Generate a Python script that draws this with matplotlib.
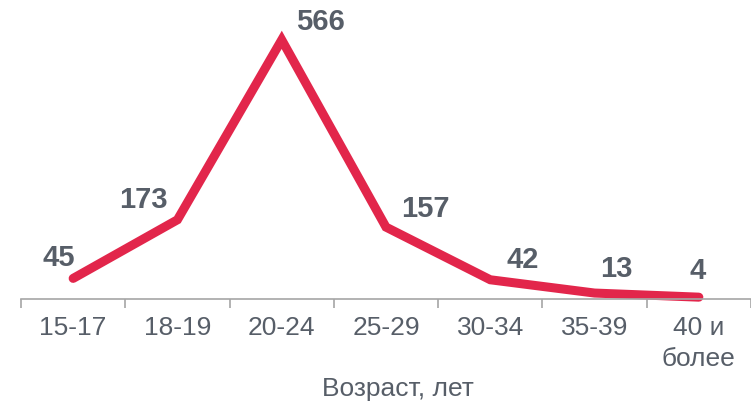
import matplotlib
matplotlib.use("Agg")
import matplotlib.pyplot as plt
import numpy as np

categories = ["15-17", "18-19", "20-24", "25-29", "30-34", "35-39", "40 и\nболее"]
values = [45, 173, 566, 157, 42, 13, 4]
# label offsets (pixels) relative to each point
label_dx = [-14, -34, 39, 39, 32, 22, -1]
label_dy = [20, 20, 18, 18, 20, 24, 26]

plt.rcParams['font.family'] = ['Liberation Sans', 'DejaVu Sans']

W, H = 751, 405
fig = plt.figure(figsize=(W / 100, H / 100), dpi=100)
left, right, bottom = 21, 751, 405 - 299
ax = fig.add_axes([left / W, bottom / H, (right - left) / W, 299 / H])

x = np.arange(len(values))
ax.plot(x, values, color="#E2264B", lw=6.5, solid_capstyle="round", solid_joinstyle="miter", clip_on=False)

for xi, v, dx, dy in zip(x, values, label_dx, label_dy):
    ax.annotate(str(v), (xi, v), xytext=(dx, dy), textcoords="offset pixels",
                ha="center", va="center", fontsize=21, fontweight="bold", color="#575E68")

ax.set_xlim(-0.5, -0.5 + (right - left) / 106)
ax.set_ylim(0, 653)
for s in ["top", "right", "left"]:
    ax.spines[s].set_visible(False)
ax.spines["bottom"].set_color("#A6A6A6")
ax.spines["bottom"].set_linewidth(1.2)
ax.set_yticks([])

ax.set_xticks(x)
ax.set_xticklabels(categories, fontsize=19, color="#575E68", linespacing=1.4)
ax.tick_params(axis="x", which="major", length=0, pad=12)
ax.set_xticks(np.arange(-0.5, 7, 1), minor=True)
ax.tick_params(axis="x", which="minor", length=6.5, width=1.2, color="#A6A6A6", direction="out")

fig.text(398 / W, 1 - 389 / H, "Возраст, лет", ha="center", va="center", fontsize=19, color="#575E68")

fig.savefig("out.png", dpi=100)
